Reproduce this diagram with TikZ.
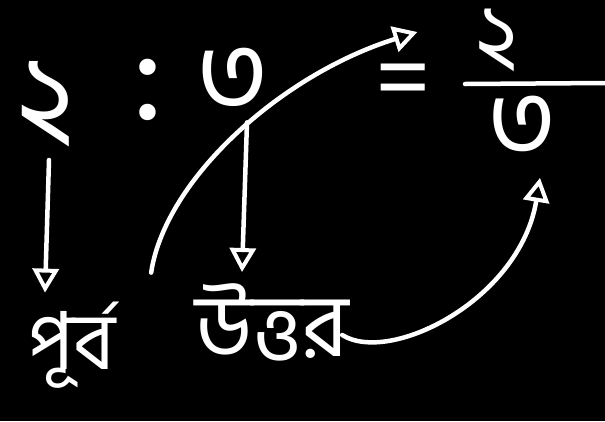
\documentclass[tikz,border=0pt]{standalone}
\usepackage{fontspec}
\newfontfamily\bnfont[Script=Bengali]{Hind Siliguri}
\usetikzlibrary{arrows.meta,positioning,calc}

\begin{document}
\begin{tikzpicture}[x=1pt,y=-1pt,
        chalk/.style={font=\bnfont\fontsize{#1}{#1}\selectfont, text=white, inner sep=0pt},
        chalk/.default=120,
        arrow/.style={-{Triangle[open,length=24pt,width=26pt,line width=4pt]}, line width=4.5pt, color=white, line cap=round}
    ]
        \fill[black] (0,0) rectangle (605,421);
        \useasboundingbox (0,0) rectangle (605,421);

        \node[chalk] (two) at (46,104) {২};
        \node[chalk=140] (colon) at (148,90) {:};
        \node[chalk=110] (three) at (233,80) {৩};
        \node[chalk=100] (eq) at (403,88) {=};
        \node[chalk=88] (num) at (497,40) {২};
        \node[chalk=105] (den) at (522,127) {৩};
        \node[chalk=80] (purbo) at (72,345) {পূর্ব};
        \node[chalk=88] (uttor) at (272,322) {উত্তর};

        \coordinate (barL) at (465,84);
        \coordinate (barR) at (605,83);
        \draw[white, line width=4.5pt, line cap=round] (barL) -- (barR);

        \draw[arrow] ([xshift=3pt,yshift=-13pt]two.south) -- ([xshift=-27pt,yshift=9pt]purbo.north);
        \draw[arrow] ([xshift=14pt,yshift=-10pt]three.south) -- ([xshift=-30pt,yshift=11pt]uttor.north);
        \draw[arrow] ([xshift=35pt,yshift=29pt]purbo.north east) .. controls (165,180) and (280,75) .. ([xshift=-58pt,yshift=8pt]num.west);
        \draw[arrow] ([xshift=-7pt,yshift=-13pt]uttor.east) .. controls (390,365) and (520,300) .. ([xshift=18pt,yshift=-20pt]den.south);
    \end{tikzpicture}
\end{document}
